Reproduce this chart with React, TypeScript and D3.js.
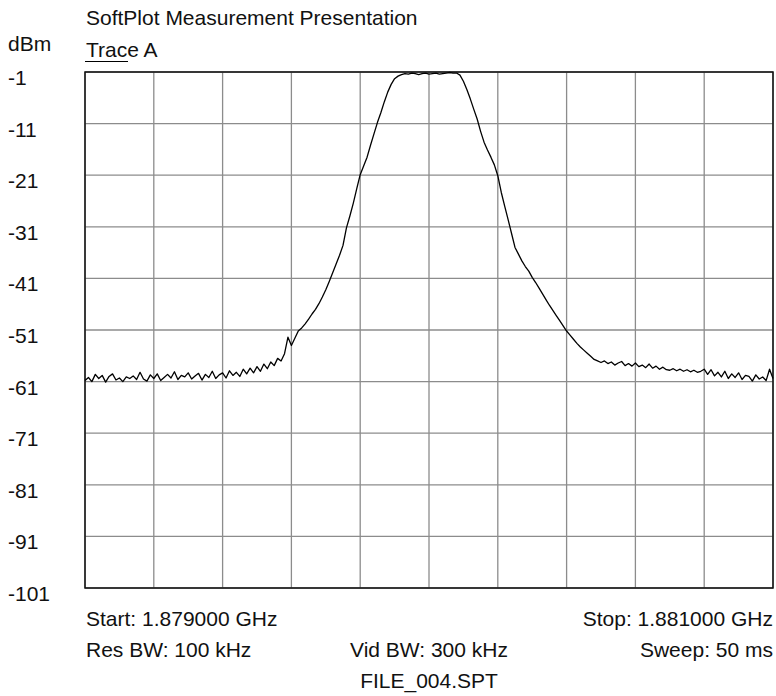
import * as d3 from 'd3'

// sweep: 201 points from 1.879 GHz to 1.881 GHz, level in dBm
const startMHz = 1879
const stopMHz = 1881
const traceA: number[] = [
  -60.8, -60.2, -61.0, -59.6, -60.4, -59.8, -61.1, -60.0, -59.5, -60.7,
  -60.3, -61.0, -60.1, -60.4, -59.9, -60.6, -59.2, -60.5, -60.9, -59.7,
  -60.4, -59.5, -60.8, -60.2, -59.6, -60.3, -59.1, -60.6, -59.8, -60.1,
  -59.3, -60.5, -59.9, -59.4, -60.7, -59.6, -60.2, -59.0, -60.4, -59.7,
  -59.3, -60.3, -58.9, -59.8, -59.2, -60.0, -58.6, -59.5, -58.4, -59.3,
  -58.1, -59.0, -57.6, -58.5, -57.2, -57.9, -56.5, -57.0, -55.6, -52.4,
  -54.0, -52.6, -51.2, -50.6, -49.8, -48.9, -47.9, -47.0, -45.9, -44.6,
  -43.2, -41.6, -39.9, -38.2, -36.5, -34.6, -31.2, -28.9, -26.4, -23.6,
  -20.9, -19.2, -17.5, -15.2, -13.0, -10.8, -8.9, -6.8, -4.9, -3.4,
  -2.3, -1.8, -1.5, -1.3, -1.4, -1.2, -1.3, -1.5, -1.3, -1.2,
  -1.4, -1.3, -1.2, -1.4, -1.3, -1.2, -1.1, -1.2, -1.2, -1.6,
  -2.8, -4.4, -6.2, -8.2, -10.1, -12.5, -14.6, -16.1, -17.5, -19.0,
  -21.1, -24.3, -27.0, -29.6, -32.3, -35.0, -36.3, -37.6, -38.7, -39.6,
  -40.8, -41.8, -42.9, -44.0, -45.1, -46.2, -47.2, -48.2, -49.2, -50.2,
  -51.2, -52.0, -52.8, -53.6, -54.3, -54.9, -55.5, -56.1, -56.7, -57.0,
  -57.3, -57.0, -57.5, -57.2, -57.8, -57.4, -57.1, -57.9, -57.5, -58.0,
  -57.4, -58.1, -57.8, -58.3, -57.6, -58.4, -58.0, -58.6, -58.2, -58.7,
  -58.8, -58.5, -58.9, -58.6, -59.0, -58.7, -59.1, -58.8, -59.2, -59.0,
  -58.6, -59.6, -58.7, -59.9, -59.2, -60.1, -59.0, -60.4, -59.5, -60.2,
  -59.3, -60.6, -59.8, -60.0, -60.9, -59.7, -60.5, -60.1, -60.8, -58.6,
  -60.4,
]
const yTicks = [-1, -11, -21, -31, -41, -51, -61, -71, -81, -91, -101]

const font = '"Liberation Sans", Arial, sans-serif'

export default function App() {
  const width = 776
  const height = 696
  const margin = { top: 72, right: 3, bottom: 108, left: 85 }
  const innerW = width - margin.left - margin.right
  const innerH = height - margin.top - margin.bottom

  const x = d3.scaleLinear().domain([startMHz, stopMHz]).range([0, innerW])
  const y = d3.scaleLinear().domain([-101, -1]).range([innerH, 0])

  const step = (stopMHz - startMHz) / (traceA.length - 1)
  const line = d3.line<number>()
    .x((d, i) => x(startMHz + i * step))
    .y(d => y(d))

  const xGrid = d3.range(11).map(i => startMHz + i * (stopMHz - startMHz) / 10)

  return (
    <svg width={width} height={height} style={{ position: 'absolute', left: 0, top: 0, background: '#fff' }}
      fontFamily={font} fontSize={21} fill="#111">
      <text x={86} y={25}>SoftPlot Measurement Presentation</text>
      <text x={8} y={51}>dBm</text>
      <text x={86} y={57}>Trace A</text>
      <line x1={85} x2={128} y1={61.5} y2={61.5} stroke="#000" strokeWidth={1} />

      <g transform={`translate(${margin.left},${margin.top})`}>
        {yTicks.map(t => (
          <line key={'h' + t} x1={0} x2={innerW} y1={y(t)} y2={y(t)} stroke="#8c8c8c" strokeWidth={1.3} />
        ))}
        {xGrid.map(v => (
          <line key={'v' + v} x1={x(v)} x2={x(v)} y1={0} y2={innerH} stroke="#8c8c8c" strokeWidth={1.3} />
        ))}
        <rect x={0} y={0} width={innerW} height={innerH} fill="none" stroke="#111" strokeWidth={1.5} />
        <path d={line(traceA) ?? ''} fill="none" stroke="#000" strokeWidth={1.3} strokeLinejoin="round" />
        {yTicks.map(t => (
          <text key={'t' + t} x={8 - margin.left} y={y(t) + 13}>{t}</text>
        ))}
      </g>

      <text x={86} y={626}>Start: 1.879000 GHz</text>
      <text x={86} y={657}>Res BW: 100 kHz</text>
      <text x={margin.left + innerW / 2} y={657} textAnchor="middle">Vid BW: 300 kHz</text>
      <text x={margin.left + innerW / 2} y={688} textAnchor="middle">FILE_004.SPT</text>
      <text x={773} y={626} textAnchor="end">Stop: 1.881000 GHz</text>
      <text x={773} y={657} textAnchor="end">Sweep: 50 ms</text>
    </svg>
  )
}
